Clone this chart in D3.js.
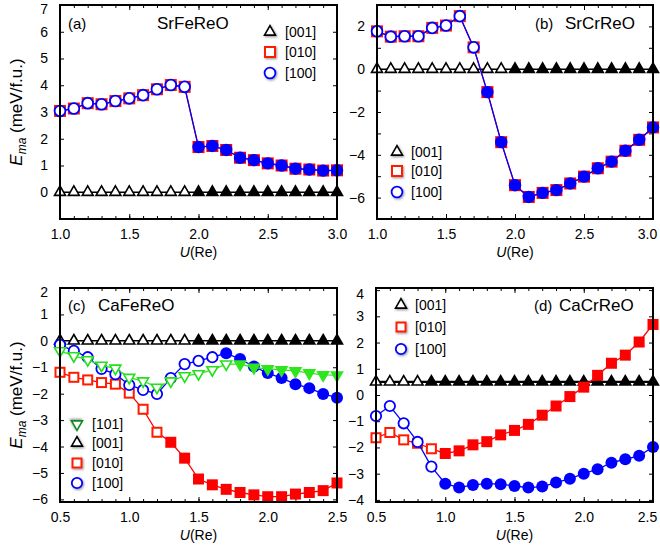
<!DOCTYPE html>
<html><head><meta charset="utf-8">
<script src="https://cdn.jsdelivr.net/npm/d3@7"></script>
<style>
body{margin:0;background:#fff}
svg{display:block;font-family:"Liberation Sans",Arial,Helvetica,sans-serif}
</style>
</head><body>
<svg id="chart" width="660" height="550"></svg>
<script>
// ---------- data ----------
const uSr = [1.0,1.1,1.2,1.3,1.4,1.5,1.6,1.7,1.8,1.9,2.0,2.1,2.2,2.3,2.4,2.5,2.6,2.7,2.8,2.9,3.0];
const uCa = [0.5,0.6,0.7,0.8,0.9,1.0,1.1,1.2,1.3,1.4,1.5,1.6,1.7,1.8,1.9,2.0,2.1,2.2,2.3,2.4,2.5];

const srfe001 = [0,0,0,0,0,0,0,0,0,0,0,0,0,0,0,0,0,0,0,0,0];
const srfe010 = [3.04,3.13,3.33,3.29,3.41,3.51,3.63,3.85,4.01,3.94,1.69,1.73,1.58,1.29,1.20,1.08,1.00,0.88,0.85,0.81,0.82];
const srfe100 = [3.04,3.13,3.33,3.29,3.41,3.51,3.63,3.85,4.01,3.94,1.69,1.73,1.58,1.29,1.20,1.08,1.00,0.88,0.85,0.81,0.82];

const srcr001 = [0,0,0,0,0,0,0,0,0,0,0,0,0,0,0,0,0,0,0,0,0];
const srcr010 = [1.77,1.52,1.54,1.54,1.93,2.04,2.48,1.02,-1.07,-3.41,-5.42,-5.97,-5.78,-5.65,-5.34,-5.02,-4.63,-4.32,-3.81,-3.30,-2.72];
const srcr100 = [1.77,1.52,1.54,1.54,1.93,2.04,2.48,1.02,-1.07,-3.41,-5.42,-5.97,-5.78,-5.65,-5.34,-5.02,-4.63,-4.32,-3.81,-3.30,-2.72];

const cafe001 = [0,0,0,0,0,0,0,0,0,0,0,0,0,0,0,0,0,0,0,0,0];
const cafe010 = [-1.19,-1.38,-1.48,-1.58,-1.64,-1.98,-2.59,-3.46,-3.84,-4.44,-5.23,-5.45,-5.62,-5.74,-5.83,-5.90,-5.90,-5.80,-5.74,-5.67,-5.38];
const cafe100 = [-0.15,-0.38,-0.62,-1.06,-1.26,-1.67,-1.86,-2.01,-1.41,-0.88,-0.76,-0.62,-0.47,-0.69,-0.97,-1.22,-1.41,-1.64,-1.79,-2.01,-2.15];
const cafe101 = [-0.38,-0.57,-0.72,-0.93,-1.04,-1.39,-1.52,-1.76,-1.52,-1.33,-1.25,-1.10,-0.88,-0.88,-1.01,-1.06,-1.10,-1.14,-1.22,-1.29,-1.30];

const cacr001 = [0.5,0.5,0.5,0.5,0.5,0.5,0.5,0.5,0.5,0.5,0.5,0.5,0.5,0.5,0.5,0.5,0.5,0.5,0.5,0.5,0.5];
const cacr010 = [-1.63,-1.43,-1.71,-1.84,-2.05,-2.23,-2.13,-1.90,-1.78,-1.52,-1.35,-1.12,-0.77,-0.42,-0.06,0.30,0.75,1.21,1.52,2.02,2.69];
const cacr100 = [-0.80,-0.42,-1.08,-1.79,-2.73,-3.38,-3.53,-3.43,-3.38,-3.40,-3.47,-3.53,-3.49,-3.34,-3.19,-3.00,-2.83,-2.58,-2.45,-2.32,-1.98];

// U value from which markers are drawn filled
const fillSrfe = {"001":2.0, "010":2.0, "100":2.0};
const fillSrcr = {"001":2.0, "010":1.8, "100":1.8};
const fillCafe = {"001":1.5, "010":1.3, "100":1.7, "101":1.8};
const fillCacr = {"001":0.9, "010":1.0, "100":1.0};

const xMajorSr = [1.0,1.5,2.0,2.5,3.0];
const xMajorCa = [0.5,1.0,1.5,2.0,2.5];
const yTicksA = [0,1,2,3,4,5,6,7];
const yTicksB = [-6,-5,-4,-3,-2,-1,0,1,2];
const yLabelsB = [-6,-4,-2,0,2];
const yTicksC = [-6,-5,-4,-3,-2,-1,0,1,2];
const yTicksD = [-4,-3,-2,-1,0,1,2,3,4];

const titles = ["SrFeReO","SrCrReO","CaFeReO","CaCrReO"];
const tags = ["(a)","(b)","(c)","(d)"];
const legendNames = {"101":"[101]","001":"[001]","010":"[010]","100":"[100]"};

// ---------- styles ----------
const C = {
  "001": {stroke:"#000", fill:"#000", shape:"tri"},
  "010": {stroke:"#ff1a00", fill:"#ff0000", shape:"sq"},
  "100": {stroke:"#0000ff", fill:"#0000ff", shape:"circ"},
  "101": {stroke:"#22e01a", fill:"#2ee61e", shape:"tridown", legendStroke:"#118a22"}
};

const svg = d3.select("#chart");
const defs = svg.append("defs");
const f = defs.append("filter").attr("id","glow").attr("x","-60%").attr("y","-60%").attr("width","220%").attr("height","220%");
f.append("feDropShadow").attr("dx",1).attr("dy",1.2).attr("stdDeviation",1.3).attr("flood-color","#444").attr("flood-opacity",0.55);

const panels = [
  {x0:60,x1:337,y0:5,y1:219, xd:[1,3], yd:[-1,7], u:uSr, xMajor:xMajorSr, yTicks:yTicksA, yLabels:yTicksA,
   series:[["001",srfe001],["010",srfe010],["100",srfe100]], fill:fillSrfe, sq:12, r:5.4,
   tagPos:[68,29], titlePos:[157,29], legend:{mx:270,tx:285,rows:[32,52,73],keys:["001","010","100"]}, yTitle:true, lw001:1.5},
  {x0:377,x1:653,y0:5,y1:219, xd:[1,3], yd:[-7,3], u:uSr, xMajor:xMajorSr, yTicks:yTicksB, yLabels:yLabelsB,
   series:[["001",srcr001],["010",srcr010],["100",srcr100]], fill:fillSrcr, sq:12, r:5.4,
   tagPos:[535,29], titlePos:[565,29], legend:{mx:397,tx:411,rows:[152,171,192],keys:["001","010","100"]}, yTitle:false, lw001:1.5},
  {x0:60,x1:337,y0:288,y1:502, xd:[0.5,2.5], yd:[-6.1,2], u:uCa, xMajor:xMajorCa, yTicks:yTicksC, yLabels:yTicksC,
   series:[["001",cafe001],["010",cafe010],["100",cafe100],["101",cafe101]], fill:fillCafe, sq:11, r:5.2,
   tagPos:[68,311], titlePos:[98,311], legend:{mx:77,tx:92,rows:[424,443,463,483],keys:["101","001","010","100"]}, yTitle:true, lw001:1.5},
  {x0:376,x1:653,y0:288,y1:502, xd:[0.5,2.5], yd:[-4.08,4.08], u:uCa, xMajor:xMajorCa, yTicks:yTicksD, yLabels:yTicksD,
   series:[["001",cacr001],["010",cacr010],["100",cacr100]], fill:fillCacr, sq:11, r:5.2,
   tagPos:[534,311], titlePos:[559,311], legend:{mx:401,tx:415,rows:[305,327,349],keys:["001","010","100"]}, yTitle:false, lw001:2.2}
];

const triSize = 52;

function drawMarker(g, key, cx, cy, filled, p, legend){
  const st = C[key];
  const stroke = legend && st.legendStroke ? st.legendStroke : (filled ? st.fill : st.stroke);
  const fill = filled ? st.fill : "#fff";
  let el;
  if (st.shape === "sq") {
    const s = p.sq - (filled ? 0 : 2);
    el = g.append("rect").attr("x",cx-s/2).attr("y",cy-s/2).attr("width",s).attr("height",s)
      .attr("fill",fill).attr("stroke",stroke).attr("stroke-width",filled?0:2);
  } else if (st.shape === "circ") {
    const r = filled ? p.r+0.8 : p.r;
    el = g.append("circle").attr("cx",cx).attr("cy",cy).attr("r",r)
      .attr("fill",fill).attr("stroke",stroke).attr("stroke-width",filled?0:1.8);
  } else {
    const rot = st.shape === "tridown" ? 180 : 0;
    el = g.append("path").attr("d", d3.symbol(d3.symbolTriangle, triSize)())
      .attr("transform",`translate(${cx},${cy}) rotate(${rot})`)
      .attr("fill",fill).attr("stroke",stroke).attr("stroke-width",1.6).attr("stroke-linejoin","miter");
  }
  if (legend) el.attr("filter","url(#glow)");
}

panels.forEach((p,i) => {
  const x = d3.scaleLinear().domain(p.xd).range([p.x0,p.x1]);
  const y = d3.scaleLinear().domain(p.yd).range([p.y1,p.y0]);
  const g = svg.append("g");

  // axes (inward ticks)
  const fmtX = d3.format(".1f");
  const labelSet = new Set(p.yLabels);
  const xAx = g.append("g").attr("transform",`translate(0,${p.y1})`)
    .call(d3.axisBottom(x).tickValues(p.xMajor).tickSize(-5).tickPadding(10).tickFormat(fmtX));
  g.append("g").attr("transform",`translate(0,${p.y1})`)
    .call(d3.axisBottom(x).tickValues(p.u).tickSize(-3).tickFormat(""));
  g.append("g").attr("transform",`translate(0,${p.y0})`)
    .call(d3.axisTop(x).tickValues(p.u).tickSize(-3).tickFormat(""));
  g.append("g").attr("transform",`translate(0,${p.y0})`)
    .call(d3.axisTop(x).tickValues(p.xMajor).tickSize(-5).tickFormat(""));
  const yAx = g.append("g").attr("transform",`translate(${p.x0},0)`)
    .call(d3.axisLeft(y).tickValues(p.yTicks).tickSize(-4).tickPadding(12)
      .tickFormat(v => labelSet.has(v) ? d3.format("d")(v).replace("-","\u2212") : ""));
  g.append("g").attr("transform",`translate(${p.x1},0)`)
    .call(d3.axisRight(y).tickValues(p.yTicks).tickSize(-4).tickFormat(""));
  g.selectAll(".domain").remove();
  g.selectAll(".tick line").attr("stroke","#000").attr("stroke-width",1);
  g.selectAll(".tick text").attr("font-size",14).attr("fill","#000");
  // keep edge labels inside the page, like the reference
  yAx.selectAll(".tick").filter(v => Math.abs(y(v) - p.y0) < 3).select("text").attr("dy","0.62em");
  if (p.x1 > 640) {
    xAx.selectAll(".tick").filter(v => Math.abs(x(v) - p.x1) < 1).select("text").attr("dx",-6);
  }

  // series
  const line = d3.line().x(d => x(d[0])).y(d => y(d[1]));
  p.series.forEach(([key, vals]) => {
    const pts = p.u.map((u,j) => [u, vals[j]]);
    const st = C[key];
    g.append("path").attr("d", line(pts)).attr("fill","none")
      .attr("stroke", key==="001" ? "#000" : st.fill)
      .attr("stroke-width", key==="001" ? p.lw001 : 1.3);
    pts.forEach(([u,v]) => drawMarker(g, key, x(u), y(v), u >= p.fill[key]-1e-9, p, false));
  });

  // frame
  g.append("rect").attr("x",p.x0).attr("y",p.y0).attr("width",p.x1-p.x0).attr("height",p.y1-p.y0)
    .attr("fill","none").attr("stroke","#000").attr("stroke-width",2);

  // labels
  g.append("text").attr("x",p.tagPos[0]).attr("y",p.tagPos[1]).attr("font-size",15).text(tags[i]);
  g.append("text").attr("x",p.titlePos[0]).attr("y",p.titlePos[1]).attr("font-size",17).text(titles[i]);

  // legend
  p.legend.keys.forEach((k,j) => {
    const yy = p.legend.rows[j];
    drawMarker(g, k, p.legend.mx, yy, false, p, true);
    g.append("text").attr("x",p.legend.tx).attr("y",yy).attr("dy","0.36em").attr("font-size",14).text(legendNames[k]);
  });

  // axis titles
  const xt = g.append("text").attr("x",(p.x0+p.x1)/2).attr("y",p.y1+38).attr("text-anchor","middle").attr("font-size",14);
  xt.append("tspan").attr("font-style","italic").text("U");
  xt.append("tspan").text("(Re)");
  if (p.yTitle) {
    const cy = (p.y0+p.y1)/2;
    const yt = g.append("text").attr("transform",`translate(22,${cy}) rotate(-90)`).attr("text-anchor","middle").attr("font-size",17);
    yt.append("tspan").attr("font-style","italic").text("E");
    yt.append("tspan").attr("font-style","italic").attr("font-size",12).attr("dy",4).text("ma");
    yt.append("tspan").attr("dy",-4).text(" (meV/f.u.)");
  }
});
</script>
</body></html>
